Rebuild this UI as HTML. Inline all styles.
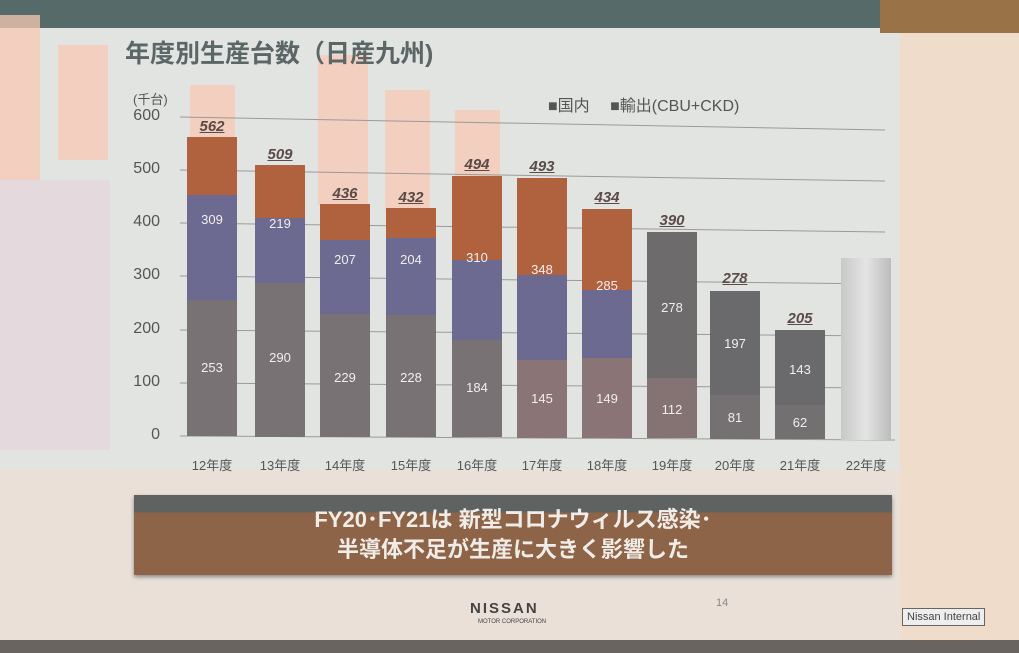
<!DOCTYPE html>
<html><head><meta charset="utf-8"><style>
body{margin:0;width:1019px;height:653px;overflow:hidden;background:#e2e4e2;font-family:"Liberation Sans","Noto Sans CJK JP",sans-serif;position:relative}
.a{position:absolute}
.bar{position:absolute;width:50px}
.lbl{position:absolute;width:60px;text-align:center;font-size:13px;color:#f2eeee}
.tot{position:absolute;width:60px;text-align:center;font-size:15px;font-weight:bold;font-style:italic;color:#5a4a48;text-decoration:underline}
.yt{position:absolute;left:120px;width:40px;text-align:right;font-size:16px;color:#555}
.xt{position:absolute;top:455px;width:70px;text-align:center;font-size:13px;color:#555}
.r{position:absolute;background:#f7c8b2;opacity:.75}
</style></head><body>
<div class="a" style="left:0;top:0;width:1019px;height:28px;background:#566b69"></div>
<div class="a" style="left:880px;top:0;width:139px;height:33px;background:#9a7248"></div>
<div class="a" style="left:900px;top:33px;width:119px;height:620px;background:#f0dcca"></div>
<div class="r" style="left:0;top:15px;width:40px;height:170px"></div>
<div class="r" style="left:58px;top:45px;width:50px;height:115px"></div>
<div class="a" style="left:0;top:180px;width:110px;height:270px;background:#e4dadd"></div>
<div class="r" style="left:190px;top:85px;width:45px;height:90px"></div>
<div class="r" style="left:318px;top:55px;width:50px;height:150px"></div>
<div class="r" style="left:385px;top:90px;width:45px;height:120px"></div>
<div class="r" style="left:455px;top:110px;width:45px;height:70px"></div>
<div class="a" style="left:0;top:470px;width:900px;height:170px;background:#ebe0d8"></div>
<div class="a" style="left:0;top:640px;width:1019px;height:13px;background:#6a6460"></div>
<div class="a" style="left:125px;top:34px;font-size:25px;font-weight:bold;color:#5b6766">年度別生産台数（日産九州)</div>
<div class="a" style="left:133px;top:89px;font-size:13px;color:#555">(千台)</div>
<div class="a" style="left:548px;top:92px;font-size:16px;color:#555">■国内　&nbsp;■輸出(CBU+CKD)</div>
<div class="yt" style="top:107px">600</div><div class="yt" style="top:160px">500</div><div class="yt" style="top:213px">400</div><div class="yt" style="top:266px">300</div><div class="yt" style="top:320px">200</div><div class="yt" style="top:373px">100</div><div class="yt" style="top:426px">0</div>
<svg class="a" style="left:0;top:0" width="1019" height="653"><g stroke="#9a9a9a" stroke-width="1">
<line x1="180" y1="117" x2="885" y2="130"/><line x1="180" y1="170" x2="885" y2="181"/><line x1="180" y1="223" x2="885" y2="232"/><line x1="180" y1="276" x2="885" y2="284"/><line x1="180" y1="330" x2="885" y2="336"/><line x1="180" y1="383" x2="885" y2="388"/><line x1="180" y1="436" x2="895" y2="440"/></g></svg>
<div class="bar" style="left:187px;top:137px;height:58px;background:#b0613e"></div><div class="bar" style="left:187px;top:195px;height:105px;background:#6c6a90"></div><div class="bar" style="left:187px;top:300px;height:136px;background:#787274"></div>
<div class="bar" style="left:255px;top:165px;height:53px;background:#b0613e"></div><div class="bar" style="left:255px;top:218px;height:65px;background:#6c6a90"></div><div class="bar" style="left:255px;top:283px;height:154px;background:#787274"></div>
<div class="bar" style="left:320px;top:204px;height:36px;background:#b0613e"></div><div class="bar" style="left:320px;top:240px;height:74px;background:#6c6a90"></div><div class="bar" style="left:320px;top:314px;height:123px;background:#787274"></div>
<div class="bar" style="left:386px;top:208px;height:30px;background:#b0613e"></div><div class="bar" style="left:386px;top:238px;height:77px;background:#6c6a90"></div><div class="bar" style="left:386px;top:315px;height:122px;background:#787274"></div>
<div class="bar" style="left:452px;top:176px;height:84px;background:#b0613e"></div><div class="bar" style="left:452px;top:260px;height:80px;background:#6c6a90"></div><div class="bar" style="left:452px;top:340px;height:97px;background:#787274"></div>
<div class="bar" style="left:517px;top:178px;height:97px;background:#b0613e"></div><div class="bar" style="left:517px;top:275px;height:85px;background:#6c6a90"></div><div class="bar" style="left:517px;top:360px;height:78px;background:#8a7476"></div>
<div class="bar" style="left:582px;top:209px;height:81px;background:#b0613e"></div><div class="bar" style="left:582px;top:290px;height:68px;background:#6c6a90"></div><div class="bar" style="left:582px;top:358px;height:80px;background:#8a7476"></div>
<div class="bar" style="left:647px;top:232px;height:146px;background:#6e6b6c"></div><div class="bar" style="left:647px;top:378px;height:60px;background:#857273"></div>
<div class="bar" style="left:710px;top:291px;height:104px;background:#6a6a6c"></div><div class="bar" style="left:710px;top:395px;height:44px;background:#757072"></div>
<div class="bar" style="left:775px;top:330px;height:75px;background:#6a6a6c"></div><div class="bar" style="left:775px;top:405px;height:34px;background:#737072"></div>
<div class="bar" style="left:841px;top:258px;height:182px;background:linear-gradient(90deg,#c8c8c8,#e4e4e4,#bcbcbc)"></div>
<div class="tot" style="left:182px;top:118px">562</div><div class="tot" style="left:250px;top:146px">509</div><div class="tot" style="left:315px;top:185px">436</div><div class="tot" style="left:381px;top:189px">432</div><div class="tot" style="left:447px;top:156px">494</div><div class="tot" style="left:512px;top:158px">493</div><div class="tot" style="left:577px;top:189px">434</div><div class="tot" style="left:642px;top:212px">390</div><div class="tot" style="left:705px;top:270px">278</div><div class="tot" style="left:770px;top:310px">205</div>
<div class="lbl" style="left:182px;top:212px">309</div><div class="lbl" style="left:250px;top:216px">219</div><div class="lbl" style="left:315px;top:252px">207</div><div class="lbl" style="left:381px;top:252px">204</div><div class="lbl" style="left:447px;top:250px">310</div><div class="lbl" style="left:512px;top:262px">348</div><div class="lbl" style="left:577px;top:278px">285</div><div class="lbl" style="left:642px;top:300px">278</div><div class="lbl" style="left:705px;top:336px">197</div><div class="lbl" style="left:770px;top:362px">143</div>
<div class="lbl" style="left:182px;top:360px">253</div><div class="lbl" style="left:250px;top:350px">290</div><div class="lbl" style="left:315px;top:370px">229</div><div class="lbl" style="left:381px;top:370px">228</div><div class="lbl" style="left:447px;top:380px">184</div><div class="lbl" style="left:512px;top:391px">145</div><div class="lbl" style="left:577px;top:391px">149</div><div class="lbl" style="left:642px;top:402px">112</div><div class="lbl" style="left:705px;top:410px">81</div><div class="lbl" style="left:770px;top:415px">62</div>
<div class="xt" style="left:177px">12年度</div><div class="xt" style="left:245px">13年度</div><div class="xt" style="left:310px">14年度</div><div class="xt" style="left:376px">15年度</div><div class="xt" style="left:442px">16年度</div><div class="xt" style="left:507px">17年度</div><div class="xt" style="left:572px">18年度</div><div class="xt" style="left:637px">19年度</div><div class="xt" style="left:700px">20年度</div><div class="xt" style="left:765px">21年度</div><div class="xt" style="left:831px">22年度</div>
<div class="a" style="left:134px;top:495px;width:758px;height:80px;background:linear-gradient(#5e6260 0,#5e6260 22%,#8d6447 22%);box-shadow:0 2px 4px #888"></div>
<div class="a" style="left:134px;top:505px;width:758px;text-align:center;font-size:22px;font-weight:bold;color:#f0ece8;line-height:30px">FY20･FY21は 新型コロナウィルス感染･<br>半導体不足が生産に大きく影響した</div>
<div class="a" style="left:470px;top:600px;font-size:15px;letter-spacing:2px;color:#444;font-weight:bold">NISSAN</div>
<div class="a" style="left:478px;top:619px;font-size:6px;color:#444">MOTOR CORPORATION</div>
<div class="a" style="left:716px;top:597px;font-size:11px;color:#888">14</div>
<div class="a" style="left:902px;top:608px;border:1px solid #666;padding:2px 4px;font-size:11px;color:#444;background:#eee">Nissan Internal</div>
</body></html>
